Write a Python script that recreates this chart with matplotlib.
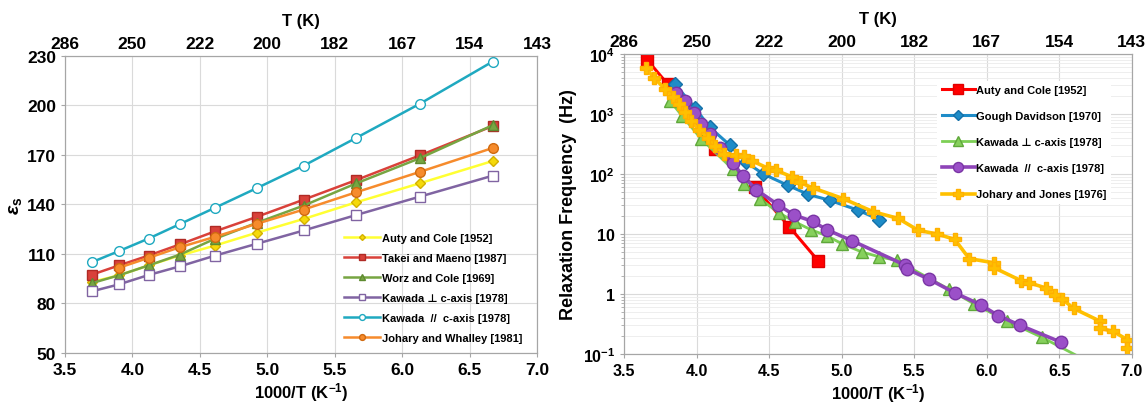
import matplotlib.pyplot as plt
import numpy as np
from matplotlib.ticker import FixedLocator, NullFormatter, LogLocator

plt.switch_backend('agg')
plt.rcParams['font.family'] = ['Liberation Sans', 'DejaVu Sans']
plt.rcParams['font.weight'] = 'bold'
plt.rcParams['mathtext.fontset'] = 'custom'
plt.rcParams['mathtext.rm'] = 'Liberation Sans'
plt.rcParams['mathtext.bf'] = 'Liberation Sans:bold'
plt.rcParams['mathtext.it'] = 'Liberation Sans:italic'
plt.rcParams['mathtext.default'] = 'bf'

# ---- shared axis labels ----
x_ticks = [3.5, 4.0, 4.5, 5.0, 5.5, 6.0, 6.5, 7.0]
top_labels = ['286', '250', '222', '200', '182', '167', '154', '143']

# ---- left panel: static permittivity ----
x_left = [3.70, 3.90, 4.12, 4.35, 4.61, 4.92, 5.27, 5.66, 6.13, 6.67]
auty_eps = [93.0, 97.0, 103.0, 109.0, 115.0, 122.8, 131.2, 141.3, 152.8, 166.3]
takei_eps = [97.4, 103.0, 109.0, 115.7, 123.6, 132.4, 142.9, 154.8, 169.7, 187.5]
worz_eps = [92.3, 97.0, 103.0, 109.5, 119.1, 128.8, 139.3, 152.8, 168.0, 188.0]
kaw_perp_eps = [87.3, 91.5, 97.2, 102.4, 108.9, 116.1, 124.2, 133.6, 144.7, 157.4]
kaw_par_eps = [105.0, 111.7, 119.3, 128.0, 137.9, 149.8, 163.5, 180.4, 201.0, 226.6]
x_johary_w = [3.90, 4.12, 4.35, 4.61, 4.92, 5.27, 5.66, 6.13, 6.67]
johary_w_eps = [101.6, 107.6, 114.0, 120.3, 128.2, 136.9, 147.4, 159.7, 174.2]

# ---- right panel: relaxation frequency (log10 Hz) ----
auty_x = [3.66, 3.80, 4.13, 4.40, 4.64, 4.84]
auty_logf = [3.90, 3.50, 2.42, 1.78, 1.12, 0.55]

gough_x = [3.85, 3.99, 4.09, 4.23, 4.34, 4.46, 4.63, 4.77, 4.92, 5.11, 5.26]
gough_logf = [3.50, 3.10, 2.78, 2.48, 2.20, 2.00, 1.81, 1.66, 1.56, 1.40, 1.24]

kperp_x = [3.82, 3.90, 4.03, 4.25, 4.33, 4.44, 4.57, 4.68, 4.79, 4.90, 5.00,
           5.14, 5.26, 5.38, 5.74, 5.91, 6.14, 6.38, 6.72]
kperp_logf = [3.21, 2.97, 2.59, 2.08, 1.83, 1.58, 1.35, 1.20, 1.07, 0.97, 0.84,
              0.70, 0.62, 0.56, 0.08, -0.16, -0.45, -0.72, -1.15]

kpar_x = [3.86, 3.92, 3.98, 4.03, 4.09, 4.16, 4.25, 4.32, 4.41, 4.56, 4.67,
          4.80, 4.90, 5.07, 5.44, 5.45, 5.60, 5.78, 5.96, 6.08, 6.23, 6.51]
kpar_logf = [3.35, 3.22, 3.02, 2.84, 2.66, 2.44, 2.18, 1.97, 1.74, 1.49, 1.32,
             1.21, 1.07, 0.89, 0.48, 0.42, 0.25, 0.02, -0.18, -0.36, -0.52, -0.80]

jj_x = [3.65, 3.71, 3.78, 3.84, 3.88, 3.92, 3.96, 4.02, 4.08, 4.13, 4.19, 4.27,
        4.33, 4.38, 4.49, 4.55, 4.66, 4.71, 4.80, 5.01, 5.22, 5.39, 5.53, 5.66,
        5.78, 5.88, 6.05, 6.05, 6.24, 6.29, 6.41, 6.47, 6.52, 6.60, 6.78, 6.78,
        6.87, 6.97, 6.97]
jj_logf = [3.76, 3.60, 3.42, 3.28, 3.16, 3.03, 2.89, 2.73, 2.60, 2.47, 2.33, 2.31,
           2.30, 2.22, 2.10, 2.06, 1.95, 1.86, 1.77, 1.59, 1.37, 1.26, 1.06, 1.00,
           0.91, 0.59, 0.52, 0.44, 0.22, 0.19, 0.10, -0.02, -0.08, -0.24, -0.45, -0.57,
           -0.62, -0.76, -0.90]

fig = plt.figure(figsize=(11.46, 4.10), dpi=100)
ax1 = fig.add_axes([0.0567, 0.137, 0.412, 0.724])
ax2 = fig.add_axes([0.5445, 0.134, 0.443, 0.732])

spine_col = '#A6A6A6'
grid_col = '#DADADA'


def style_axes(ax, fs):
    for s in ax.spines.values():
        s.set_color(spine_col)
    ax.tick_params(colors='black', labelsize=fs, length=3, color=spine_col)
    for lab in ax.get_xticklabels() + ax.get_yticklabels():
        lab.set_fontweight('bold')


# ---------- left ----------
ax1.plot(x_left, auty_eps, '-D', color='#FFFF33', mfc='#F5D90A', mec='#D4B000',
         ms=5, lw=1.8, label='Auty and Cole [1952]', zorder=3)
ax1.plot(x_left, takei_eps, '-s', color='#D9413A', mfc='#D9413A', mec='#B02A25',
         ms=7, lw=1.8, label='Takei and Maeno [1987]', zorder=3)
ax1.plot(x_left, worz_eps, '-^', color='#77A542', mfc='#77A542', mec='#5E8A30',
         ms=7, lw=1.8, label='Worz and Cole [1969]', zorder=3)
ax1.plot(x_left, kaw_perp_eps, '-s', color='#8064A2', mfc='white', mec='#8064A2',
         ms=7, lw=1.8, label='Kawada \u22a5 c-axis [1978]', zorder=3)
ax1.plot(x_left, kaw_par_eps, '-o', color='#1FA9C0', mfc='white', mec='#1FA9C0',
         ms=7, lw=1.8, label='Kawada  //  c-axis [1978]', zorder=3)
ax1.plot(x_johary_w, johary_w_eps, '-o', color='#F68B2C', mfc='#F68B2C', mec='#D06A10',
         ms=7, lw=1.8, label='Johary and Whalley [1981]', zorder=3)

ax1.set_xlim(3.5, 7.0)
ax1.set_ylim(50, 230)
ax1.set_xticks(x_ticks)
ax1.set_xticklabels([f'{v:.1f}' for v in x_ticks])
ax1.set_yticks(np.arange(50, 231, 30))
ax1.grid(True, color=grid_col, lw=0.8)
ax1.set_axisbelow(True)
ax1.set_xlabel('1000/T (K$^{-1}$)', fontsize=12, fontweight='bold', labelpad=2)
ax1.set_ylabel('$\\mathit{\u03b5}_{\\mathrm{s}}$', fontsize=14, fontweight='normal', labelpad=2)
style_axes(ax1, 12.5)

top1 = ax1.twiny()
top1.set_xlim(ax1.get_xlim())
top1.set_xticks(x_ticks)
top1.set_xticklabels(top_labels)
top1.set_xlabel('T (K)', fontsize=12, fontweight='bold', labelpad=8)
style_axes(top1, 12.5)
top1.tick_params(length=0)

leg1 = ax1.legend(loc='lower right', bbox_to_anchor=(0.99, 0.0), frameon=False,
                  prop={'size': 8, 'weight': 'bold'}, handlelength=3.2,
                  labelspacing=0.9, handletextpad=0.2, markerscale=0.6)

# ---------- right ----------
ax2.set_yscale('log')
ax2.plot(auty_x, 10 ** np.array(auty_logf), '-s', color='#FF0000', mfc='#FF0000',
         mec='#E00000', ms=9, lw=2.2, label='Auty and Cole [1952]', zorder=3)
ax2.plot(gough_x, 10 ** np.array(gough_logf), '-D', color='#1E8CC8', mfc='#1E8CC8',
         mec='#1570A8', ms=7, lw=2.2, label='Gough Davidson [1970]', zorder=4)
ax2.plot(kperp_x, 10 ** np.array(kperp_logf), '-^', color='#7DCF55', mfc='#86D05C',
         mec='#5FA83A', ms=9, lw=2.0, label='Kawada \u22a5 c-axis [1978]', zorder=3)
ax2.plot(kpar_x, 10 ** np.array(kpar_logf), '-o', color='#8E44B8', mfc='#9B50C8',
         mec='#7A35A5', ms=9, lw=2.6, label='Kawada  //  c-axis [1978]', zorder=5)
ax2.plot(jj_x, 10 ** np.array(jj_logf), '-P', color='#FFC000', mfc='#FFC000',
         mec='#FFB000', ms=9, lw=2.6, label='Johary and Jones [1976]', zorder=6)

ax2.set_xlim(3.5, 7.0)
ax2.set_ylim(0.1, 1e4)
ax2.set_xticks(x_ticks)
ax2.set_xticklabels([f'{v:.1f}' for v in x_ticks])
ax2.yaxis.set_major_locator(FixedLocator([0.1, 1, 10, 100, 1000, 10000]))
ax2.set_yticklabels(['10$^{-1}$', '1', '10', '10$^{2}$', '10$^{3}$', '10$^{4}$'])
ax2.yaxis.set_minor_locator(LogLocator(base=10, subs=np.arange(2, 10)))
ax2.yaxis.set_minor_formatter(NullFormatter())
ax2.grid(True, which='major', color=grid_col, lw=0.8)
ax2.grid(True, which='minor', axis='y', color='#EBEBEB', lw=0.6)
ax2.set_axisbelow(True)
ax2.set_xlabel('1000/T (K$^{-1}$)', fontsize=12, fontweight='bold', labelpad=2)
ax2.set_ylabel('Relaxation Frequency  (Hz)', fontsize=13, fontweight='bold', labelpad=4)
style_axes(ax2, 11.5)
ax2.tick_params(axis='y', which='minor', length=2, color=spine_col)

top2 = ax2.twiny()
top2.set_xlim(ax2.get_xlim())
top2.set_xticks(x_ticks)
top2.set_xticklabels(top_labels)
top2.set_xlabel('T (K)', fontsize=12, fontweight='bold', labelpad=8)
style_axes(top2, 12.5)
top2.tick_params(length=0)

leg2 = ax2.legend(loc='upper right', bbox_to_anchor=(0.97, 0.93), frameon=True,
                  facecolor='white', edgecolor='none', framealpha=1, fancybox=False,
                  prop={'size': 8, 'weight': 'bold'}, handlelength=3.0,
                  labelspacing=1.45, handletextpad=0.1, markerscale=0.8)

fig.savefig('out.png', dpi=100)
